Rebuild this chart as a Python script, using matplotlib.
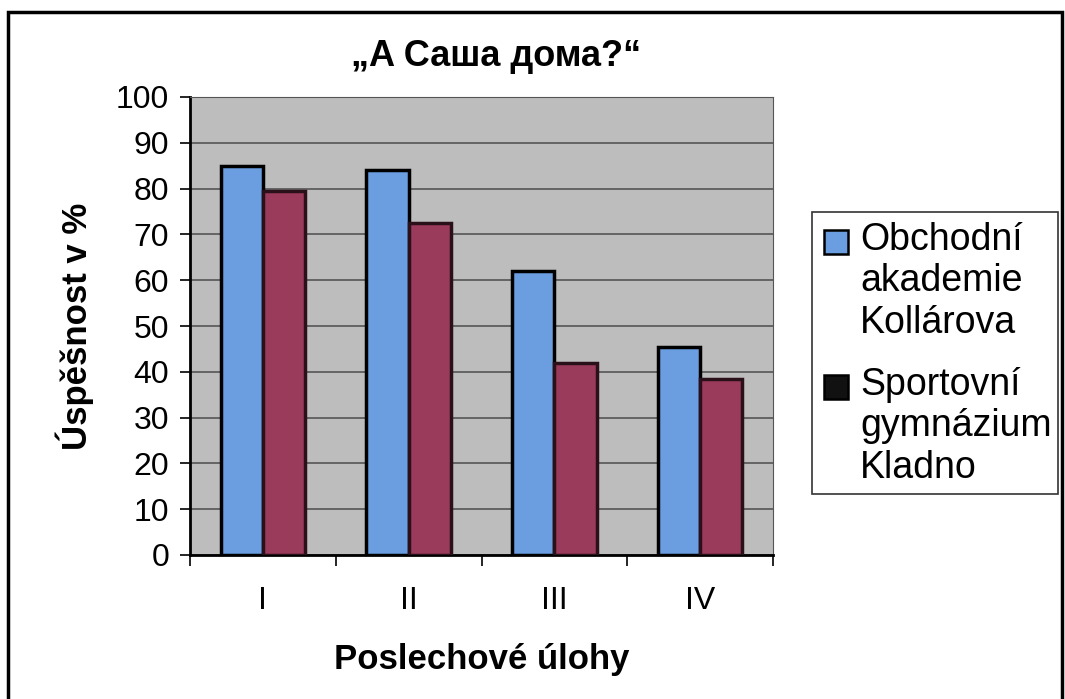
import matplotlib.pyplot as plt
import numpy as np
from matplotlib.patches import Rectangle

plt.rcParams['font.family'] = ['Liberation Sans', 'DejaVu Sans']

categories = ['I', 'II', 'III', 'IV']
obchodni = [85, 84, 62, 45.5]
sportovni = [79.5, 72.5, 42, 38.5]
series_names = ['Obchodní\nakademie\nKollárova', 'Sportovní\ngymnázium\nKladno']
series_colors = ['#6a9ee0', '#9b3b5c']
title = '„A Саша дома?“'

W, H = 1065, 699
fig = plt.figure(figsize=(W / 100, H / 100), dpi=100)
ax = fig.add_axes([190 / W, 1 - 555 / H, 583 / W, 458 / H])

x = np.arange(len(categories))
w = 0.29
ax.bar(x - w / 2, obchodni, w, color=series_colors[0], edgecolor='black', linewidth=2.5, zorder=3)
ax.bar(x + w / 2, sportovni, w, color=series_colors[1], edgecolor='#2a1018', linewidth=2.5, zorder=3)

ax.set_facecolor('#bdbdbd')
ax.set_xlim(-0.5, len(categories) - 0.5)
ax.set_ylim(0, 100)
ax.set_yticks(np.arange(0, 101, 10))
ax.yaxis.grid(True, color='#555555', linewidth=1.2, zorder=1)
ax.set_axisbelow(True)
ax.set_xticks(x)
ax.set_xticklabels(categories)
ax.set_xticks(np.arange(-0.5, len(categories)), minor=True)
ax.tick_params(axis='x', which='major', length=0, pad=22, labelsize=23)
ax.tick_params(axis='x', which='minor', length=8, width=1.2)
ax.tick_params(axis='y', length=7, width=1.2, labelsize=23, pad=8)
for s in ['top', 'right']:
    ax.spines[s].set_color('#555555')
for s in ['left', 'bottom']:
    ax.spines[s].set_linewidth(2)

ax.set_xlabel('Poslechové úlohy', fontsize=25, fontweight='bold', labelpad=20)
ax.set_ylabel('Úspěšnost v %', fontsize=25, fontweight='bold', labelpad=16)
fig.text(496 / W, 1 - 57 / H, title, fontsize=26, fontweight='bold',
         ha='center', va='center')

# legend drawn by hand: square sits beside the first line of each label
fig.patches.append(Rectangle((812 / W, 1 - 494 / H), 246 / W, 282 / H,
                             transform=fig.transFigure, facecolor='white',
                             edgecolor='#333333', linewidth=1.2))
legend_tops = [222, 367]
marker_fill = [series_colors[0], '#111111']
for name, top, fc in zip(series_names, legend_tops, marker_fill):
    fig.patches.append(Rectangle((824 / W, 1 - (top + 32) / H), 24 / W, 24 / H,
                                 transform=fig.transFigure, facecolor=fc,
                                 edgecolor='black', linewidth=1.8))
    fig.text(860 / W, 1 - top / H, name, fontsize=27, ha='left', va='top',
             linespacing=1.19)

# outer frame
fig.patches.append(Rectangle((8 / W, -0.05), 1054 / W, 1 - 12 / H + 0.05,
                             transform=fig.transFigure, fill=False,
                             edgecolor='black', linewidth=2.5))

fig.savefig('out.png', dpi=100)
